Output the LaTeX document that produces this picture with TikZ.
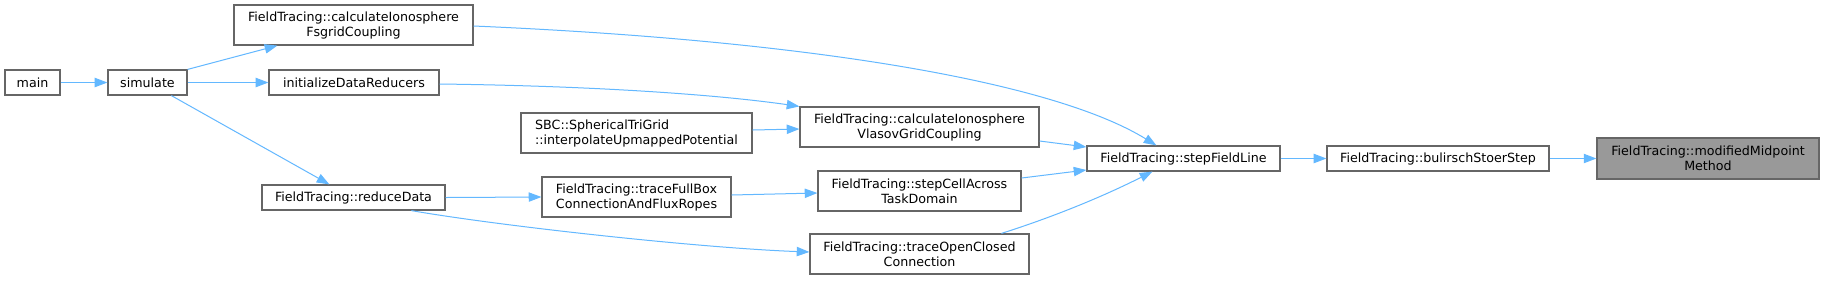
\documentclass[tikz,border=0pt]{standalone}
\usepackage{fontspec}
\setmainfont{DejaVu Sans}
\usetikzlibrary{arrows.meta,calc}
\definecolor{edgeblue}{HTML}{63B8FF}
\definecolor{nodeborder}{HTML}{666666}
\definecolor{focusfill}{HTML}{999999}
\begin{document}
\begin{tikzpicture}[x=0.75pt,y=-0.75pt,
  fn/.style={draw=nodeborder,fill=white,line width=0.9pt,inner sep=0pt,
    font=\fontsize{9.5pt}{11.25pt}\selectfont,align=center,text=black},
  fnleft/.style={fn,align=left},
  focus/.style={fn,fill=focusfill},
  one/.style={minimum height=18.75pt},
  two/.style={minimum height=30pt},
  call/.style={draw=edgeblue,line width=0.75pt,
    -{Triangle[length=9.5pt,width=7pt]}}]
\fill[white] (0,0) rectangle (1824,280);
\useasboundingbox (0,0) rectangle (1824,280);

\node[fn,one,minimum width=41.25pt] (main) at (32.5,82.5) {main};
\node[fn,one,minimum width=59.25pt] (simulate) at (147.5,82.5) {simulate};
\node[fn,two,minimum width=179.25pt] (fsgrid) at (353.5,25) {FieldTracing::calculateIonosphere\\FsgridCoupling};
\node[fn,one,minimum width=127.5pt] (initDR) at (354,82.5) {initializeDataReducers};
\node[fn,one,minimum width=137.25pt] (reduce) at (353.5,197.5) {FieldTracing::reduceData};
\node[fnleft,two,minimum width=173.25pt] (SBC) at (636.5,133) {SBC::SphericalTriGrid\\::interpolateUpmappedPotential};
\node[fnleft,two,minimum width=141.75pt] (traceFull) at (636.5,197) {FieldTracing::traceFullBox\\ConnectionAndFluxRopes};
\node[fn,two,minimum width=179.25pt] (vlasov) at (919.5,127) {FieldTracing::calculateIonosphere\\VlasovGridCoupling};
\node[fn,two,minimum width=152.25pt] (stepCell) at (919.5,191) {FieldTracing::stepCellAcross\\TaskDomain};
\node[fn,two,minimum width=164.25pt] (traceOpen) at (919.5,254) {FieldTracing::traceOpenClosed\\Connection};
\node[fn,one,minimum width=144.75pt] (sfl) at (1183.5,158.5) {FieldTracing::stepFieldLine};
\node[fn,one,minimum width=166.5pt] (buli) at (1438,158.5) {FieldTracing::bulirschStoerStep};
\node[focus,minimum height=30.75pt,minimum width=166.5pt] (mod) at (1708,158.5) {FieldTracing::modifiedMidpoint\\Method};

\draw[call] (main.east) -- (simulate.west);
\draw[call] (simulate.north east) -- ($(fsgrid.south west)+(44,0)$);
\draw[call] (simulate.east) -- (initDR.west);
\draw[call] ($(simulate.south west)+(64,0)$) -- ($(reduce.north west)+(68,0)$);
\draw[call] ($(fsgrid.east)+(0,1)$) .. controls (800,40) and (1050,80) .. ($(sfl.north west)+(70,0)$);
\draw[call] ($(initDR.east)+(0,1.5)$) .. controls (600,86) and (720,95) .. (vlasov.north west);
\draw[call] ($(SBC.east)+(0,-3)$) -- ($(vlasov.west)+(0,2)$);
\draw[call] ($(vlasov.east)+(0,14)$) -- ($(sfl.west)+(0,-11.5)$);
\draw[call] (reduce.east) -- (traceFull.west);
\draw[call] ($(reduce.south west)+(150,0)$) .. controls (500,226) and (700,248) .. ($(traceOpen.west)+(0,-2)$);
\draw[call] ($(traceFull.east)+(0,-2)$) -- ($(stepCell.west)+(0,2)$);
\draw[call] ($(stepCell.east)+(0,-13)$) -- ($(sfl.west)+(0,11.5)$);
\draw[call] ($(traceOpen.north west)+(192,0)$) .. controls (1050,218) and (1100,198) .. ($(sfl.south west)+(66,0)$);
\draw[call] (sfl.east) -- (buli.west);
\draw[call] (buli.east) -- (mod.west);
\end{tikzpicture}
\end{document}
